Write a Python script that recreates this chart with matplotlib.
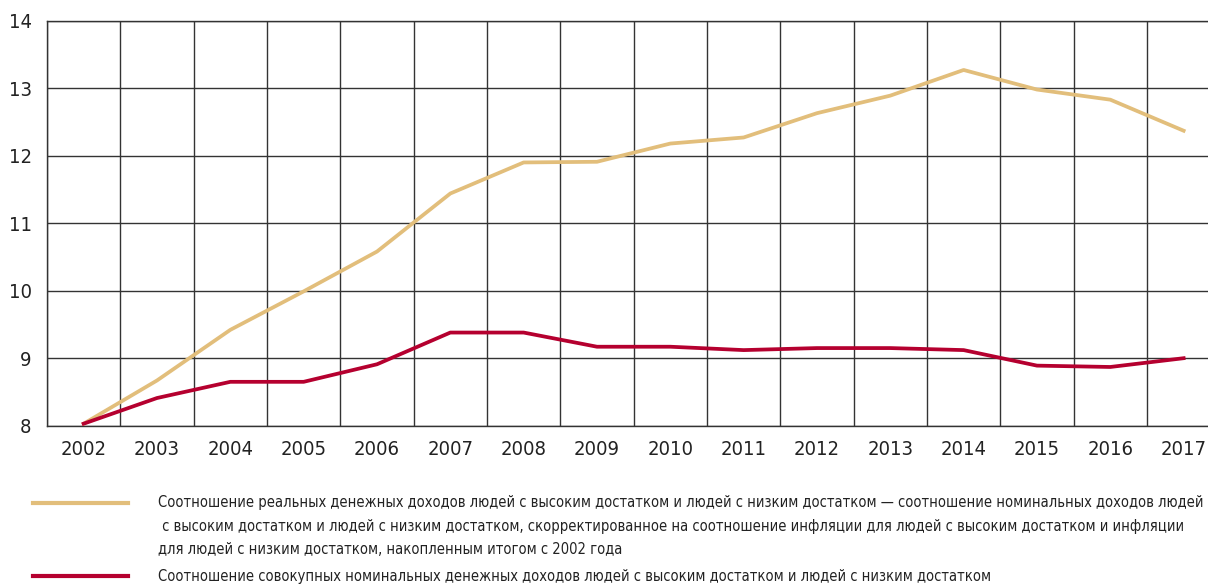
import matplotlib
matplotlib.use("Agg")
import matplotlib.pyplot as plt
from matplotlib import font_manager
from matplotlib.ticker import FixedLocator

# data
years = list(range(2002, 2018))
real_ratio = [8.03, 8.67, 9.42, 9.99, 10.58, 11.44, 11.90, 11.91,
              12.18, 12.27, 12.63, 12.89, 13.27, 12.98, 12.83, 12.37]
nominal_ratio = [8.03, 8.41, 8.65, 8.65, 8.91, 9.38, 9.38, 9.17,
                 9.17, 9.12, 9.15, 9.15, 9.12, 8.89, 8.87, 9.00]

legend_real = ["Соотношение реальных денежных доходов людей с высоким достатком и людей с низким достатком — соотношение номинальных доходов людей",
               " с высоким достатком и людей с низким достатком, скорректированное на соотношение инфляции для людей с высоким достатком и инфляции",
               "для людей с низким достатком, накопленным итогом с 2002 года"]
legend_nominal = "Соотношение совокупных номинальных денежных доходов людей с высоким достатком и людей с низким достатком"

tan = "#E2BE7B"
red = "#B5002F"
grid_col = "#333333"
txt_col = "#222222"

names = {f.name for f in font_manager.fontManager.ttflist}
if "Liberation Sans Narrow" in names:
    plt.rcParams["font.family"] = ["Liberation Sans Narrow", "DejaVu Sans"]
else:
    plt.rcParams["font.family"] = ["DejaVu Sans"]
    plt.rcParams["font.stretch"] = "condensed"

W, H = 1208, 587
fig = plt.figure(figsize=(W / 100, H / 100), dpi=100)
ax = fig.add_axes([47 / W, 1 - 425.7 / H, 1173.3 / W, 405 / H])

x = list(range(len(years)))
ax.plot(x, real_ratio, color=tan, lw=2.7, zorder=3)
ax.plot(x, nominal_ratio, color=red, lw=2.7, zorder=3)

ax.set_xlim(-0.5, len(years) - 0.5)
ax.set_ylim(8, 14)
ax.set_xticks(x)
ax.set_xticklabels([str(y) for y in years])
ax.xaxis.set_minor_locator(FixedLocator([i - 0.5 for i in range(len(years) + 1)]))
ax.set_yticks(range(8, 15))
ax.grid(True, which="minor", axis="x", color=grid_col, lw=1.0)
ax.grid(True, which="major", axis="y", color=grid_col, lw=1.0)
ax.tick_params(axis="both", which="both", length=0, labelsize=14.5, colors=txt_col)
ax.tick_params(axis="x", pad=10)
ax.tick_params(axis="y", pad=11)
for s in ax.spines.values():
    s.set_color(grid_col)
    s.set_linewidth(1.0)

# legend drawn by hand
fig.add_artist(plt.Line2D([33 / W, 128 / W], [1 - 503 / H, 1 - 503 / H], color=tan, lw=3))
fig.add_artist(plt.Line2D([33 / W, 128 / W], [1 - 576 / H, 1 - 576 / H], color=red, lw=3))
texts = []
for i, line in enumerate(legend_real):
    texts.append(fig.text(158 / W, 1 - (503 + 23.5 * i) / H, line, fontsize=13,
                          va="center", color=txt_col))
texts.append(fig.text(158 / W, 1 - 576 / H, legend_nominal, fontsize=13,
                      va="center", color=txt_col))

# shrink legend text so the longest line stays inside the figure
fs = 13
r = fig.canvas.get_renderer()
for _ in range(3):
    widest = max(t.get_window_extent(r).width for t in texts)
    if widest <= W - 158 - 6:
        break
    fs = fs * (W - 158 - 8) / widest
    for t in texts:
        t.set_fontsize(fs)

fig.savefig("out.png", dpi=100)
